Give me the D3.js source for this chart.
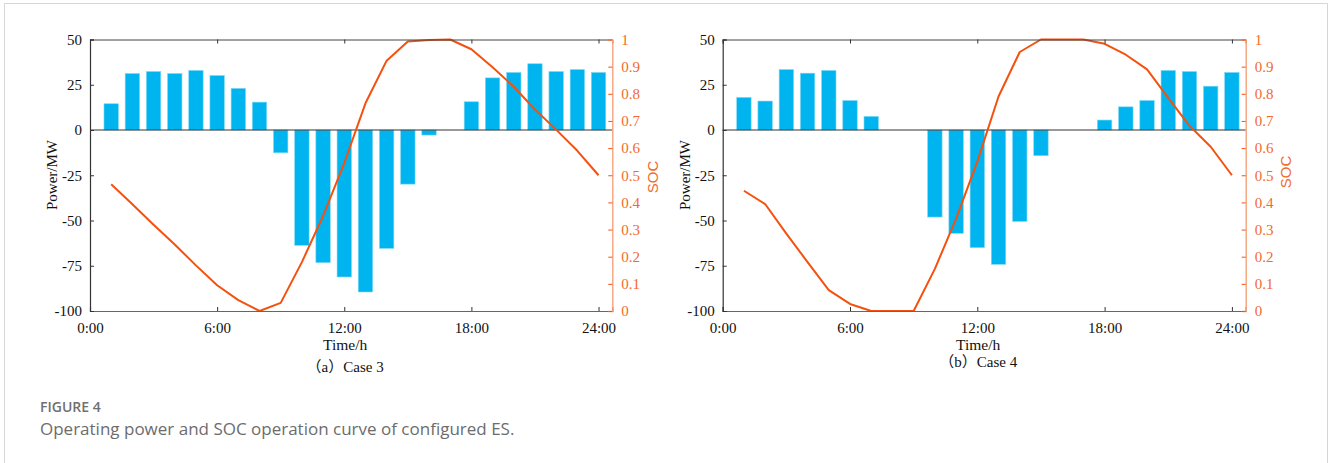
<!DOCTYPE html>
<html>
<head>
<meta charset="utf-8">
<script src="https://cdn.jsdelivr.net/npm/d3@7"></script>
<style>
  html, body { margin: 0; padding: 0; background: #fff; }
  svg { display: block; }
</style>
</head>
<body>
<svg id="fig" width="1328" height="463"></svg>
<script>
// hours 1..24, power in MW (positive = discharge), SOC after each hour
const hours = d3.range(1, 25);

const powerCase3 = [14.5, 31.2, 32.3, 31.2, 32.9, 30.1, 23.0, 15.4, -12.6, -63.7, -73.3, -81.2,
                    -89.5, -65.4, -29.9, -2.8, 0, 15.6, 28.8, 31.8, 36.6, 32.3, 33.4, 31.8];
const socCase3 = [0.467, 0.393, 0.318, 0.245, 0.168, 0.095, 0.040, 0.0, 0.030, 0.180, 0.350, 0.545,
                  0.765, 0.922, 0.993, 0.998, 1.0, 0.964, 0.898, 0.826, 0.742, 0.668, 0.590, 0.500];

const powerCase4 = [18.0, 16.0, 33.4, 31.4, 32.9, 16.3, 7.5, 0, 0, -48.1, -57.1, -65.0,
                    -74.2, -50.5, -14.2, 0, 0, 5.5, 12.8, 16.3, 32.9, 32.3, 24.2, 31.8];
const socCase4 = [0.443, 0.394, 0.285, 0.180, 0.077, 0.026, 0.0, 0.0, 0.0, 0.155, 0.340, 0.550,
                  0.790, 0.954, 1.0, 1.0, 1.0, 0.984, 0.944, 0.890, 0.785, 0.682, 0.605, 0.500];

const timeTicks = [0, 6, 12, 18, 24];
const timeLabels = ["0:00", "6:00", "12:00", "18:00", "24:00"];
const powerTicks = [50, 25, 0, -25, -50, -75, -100];
const socTicks = d3.range(0, 11).map(d => d / 10);

const BAR = "#00B5EF";
const LINE = "#F4510F";
const SOC_TEXT = "#F26A2C";
const SOC_AXIS = "#F6A27C";
const SERIF = "'Liberation Serif', 'Times New Roman', 'Noto Sans CJK SC', serif";

const svg = d3.select("#fig");

// page frame
svg.append("path")
  .attr("d", "M4.5,463 V3.5 H1327.5 V463")
  .attr("fill", "none")
  .attr("stroke", "#d6d6d6");

function drawPanel(left, right, power, soc, caption, capY, socLabelY) {
  const top = 39.5, bottom = 311;
  const x = d3.scaleLinear().domain([0, 24.65]).range([left, right]);
  const y = d3.scaleLinear().domain([-100, 50]).range([bottom, top]);
  const y2 = d3.scaleLinear().domain([0, 1]).range([bottom, top]);
  const bw = (x(1) - x(0)) * 0.68;

  const g = svg.append("g");

  // bars
  g.append("g")
    .selectAll("rect")
    .data(hours.map((h, i) => ({ h, v: power[i] })).filter(d => d.v !== 0))
    .join("rect")
    .attr("x", d => x(d.h) - bw / 2)
    .attr("width", bw)
    .attr("y", d => y(Math.max(0, d.v)))
    .attr("height", d => Math.abs(y(d.v) - y(0)))
    .attr("fill", BAR)
    .attr("stroke", "#7fd8f6")
    .attr("stroke-width", 0.6);

  // zero line
  g.append("line")
    .attr("x1", left).attr("x2", right)
    .attr("y1", y(0)).attr("y2", y(0))
    .attr("stroke", "#333").attr("stroke-width", 1);

  // SOC line
  g.append("path")
    .datum(hours.map((h, i) => [h, soc[i]]))
    .attr("fill", "none")
    .attr("stroke", LINE)
    .attr("stroke-width", 2)
    .attr("stroke-linejoin", "round")
    .attr("d", d3.line().x(d => x(d[0])).y(d => y2(d[1])));

  // box: top and bottom with inward ticks
  const xTop = d3.axisTop(x).tickValues(timeTicks).tickSize(-4).tickFormat("");
  const gTop = g.append("g").attr("transform", `translate(0,${top})`).call(xTop);
  gTop.select(".domain").attr("stroke", "#444");
  gTop.selectAll(".tick line").attr("stroke", "#333");

  const xBot = d3.axisBottom(x).tickValues(timeTicks).tickSize(-4)
    .tickFormat((d, i) => timeLabels[i]).tickPadding(8);
  const gBot = g.append("g").attr("transform", `translate(0,${bottom})`).call(xBot);
  gBot.select(".domain").attr("stroke", "#666").attr("stroke-width", 1.2);
  gBot.selectAll(".tick line").attr("stroke", "#333");
  gBot.selectAll(".tick text")
    .attr("font-family", SERIF).attr("font-size", 15).attr("fill", "#111")
    .attr("dy", "0.9em");

  // left axis
  const yL = d3.axisLeft(y).tickValues(powerTicks).tickSize(-4).tickPadding(8)
    .tickFormat(d => String(d));
  const gL = g.append("g").attr("transform", `translate(${left},0)`).call(yL);
  gL.select(".domain").attr("stroke", "#333").attr("stroke-width", 1.2);
  gL.selectAll(".tick line").attr("stroke", "#333");
  gL.selectAll(".tick text")
    .attr("font-family", SERIF).attr("font-size", 15).attr("fill", "#111");

  // right axis (SOC)
  const yR = d3.axisRight(y2).tickValues(socTicks).tickSize(-4).tickPadding(9)
    .tickFormat(d3.format(".1~f"));
  const gR = g.append("g").attr("transform", `translate(${right},0)`).call(yR);
  gR.select(".domain").attr("stroke", SOC_AXIS).attr("stroke-width", 1.4);
  gR.selectAll(".tick line").attr("stroke", LINE);
  gR.selectAll(".tick text")
    .attr("font-family", SERIF).attr("font-size", 15).attr("fill", SOC_TEXT);

  // axis titles
  const cx = (left + right) / 2 - 6;
  g.append("text")
    .attr("transform", `translate(${left - 38},${175}) rotate(-90)`)
    .attr("text-anchor", "middle").attr("dy", "0.35em")
    .attr("font-family", SERIF).attr("font-size", 15).attr("fill", "#111")
    .text("Power/MW");

  g.append("text")
    .attr("transform", `translate(${right + 40},${socLabelY}) rotate(-90)`)
    .attr("text-anchor", "middle").attr("dy", "0.35em")
    .attr("font-family", "'Liberation Sans', Arial, sans-serif").attr("font-size", 15)
    .attr("fill", SOC_TEXT)
    .text("SOC");

  g.append("text")
    .attr("x", cx).attr("y", 350)
    .attr("text-anchor", "middle")
    .attr("font-family", SERIF).attr("font-size", 15.5).attr("fill", "#111")
    .text("Time/h");

  g.append("text")
    .attr("x", cx).attr("y", capY)
    .attr("text-anchor", "middle")
    .attr("font-family", SERIF).attr("font-size", 15).attr("fill", "#111")
    .text(caption);
}

drawPanel(90, 612.3, powerCase3, socCase3, "（a）Case 3", 372, 177);
drawPanel(722.7, 1245.7, powerCase4, socCase4, "（b）Case 4", 367, 172);

// figure caption
svg.append("text")
  .attr("x", 40).attr("y", 412)
  .attr("font-family", "'Open Sans', 'Noto Sans', sans-serif")
  .attr("font-size", 14).attr("font-weight", 600).attr("fill", "#707070")
  .text("FIGURE 4");

svg.append("text")
  .attr("x", 40).attr("y", 435)
  .attr("font-family", "'Open Sans', 'Noto Sans', sans-serif")
  .attr("font-size", 17).attr("fill", "#6c6c6c")
  .text("Operating power and SOC operation curve of configured ES.");
</script>
</body>
</html>
